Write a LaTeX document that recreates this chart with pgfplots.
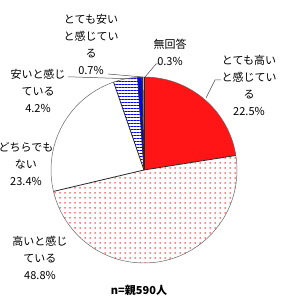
\documentclass[border=0pt]{standalone}
\usepackage{pgfplots}
\pgfplotsset{compat=1.18}
\usepackage{fontspec}
\newfontfamily\jp{Noto Sans CJK JP}
\usetikzlibrary{patterns.meta}

% pie geometry (axis units = pt)
\def\pieCx{144}\def\pieCy{133}\def\pieR{93}
\xdef\cum{0}
\newcommand{\slice}[2]{% #1 value in percent, #2 style
  \pgfmathsetmacro\sa{90-3.6*\cum}%
  \pgfmathsetmacro\ea{90-3.6*(\cum+#1)}%
  \edef\tmp{\noexpand\path[\unexpanded{#2}] (axis cs:\pieCx,\pieCy) -- ([shift={(\sa:\pieR pt)}]axis cs:\pieCx,\pieCy) arc[start angle=\sa, end angle=\ea, radius=\pieR pt] -- cycle;}%
  \tmp
  \edef\tmp{\noexpand\draw[black!85, line width=0.8pt] (axis cs:\pieCx,\pieCy) -- ([shift={(\sa:\pieR pt)}]axis cs:\pieCx,\pieCy);}%
  \tmp
  \pgfmathsetmacro\newcum{\cum+#1}\xdef\cum{\newcum}%
}

\begin{document}
\begin{tikzpicture}
\begin{axis}[name=ax, scale only axis, width=281pt, height=303pt,
  xmin=0, xmax=281, ymin=0, ymax=303, hide axis, clip=false]
% data (percent, clockwise from top)
\slice{22.5}{fill=red, postaction={pattern={Dots[distance=2pt, radius=0.45pt]}, pattern color=white}}
\slice{48.8}{fill=white, postaction={pattern={Dots[distance=5pt, radius=0.75pt]}, pattern color=red}}
\slice{23.4}{fill=white}
\slice{4.2}{fill=white, postaction={pattern={Lines[distance=3pt, angle=0, line width=0.7pt]}, pattern color=blue}}
\slice{0.7}{fill=blue}
\slice{0.3}{fill=black!80}
\draw[black!60, line width=0.5pt] (axis cs:\pieCx,\pieCy) circle[radius=\pieR pt];
% radial lines drawn again on top
\draw[black!85, line width=0.8pt] (axis cs:\pieCx,\pieCy) -- ++(90:\pieR pt);

% leader lines
\draw[black!70, line width=0.5pt] (axis cs:206,205) -- (axis cs:215,223) -- (axis cs:221,223);
\draw[black!70, line width=0.5pt] (axis cs:145,226) -- (axis cs:156,239) -- (axis cs:160,239);
\draw[black!70, line width=0.5pt] (axis cs:108,229) -- (axis cs:143,226);
\draw[black!70, line width=0.5pt] (axis cs:68,226) -- (axis cs:75,226) -- (axis cs:135,224);

% labels
\tikzset{lab/.style={align=center, inner sep=0pt, font={\jp\fontsize{11}{17}\selectfont}}}
\node[lab] at (axis cs:249,218) {とても高い\\と感じてい\\る\\22.5\%};
\node[lab] at (axis cs:170,250.5) {無回答\\0.3\%};
\node[lab] at (axis cs:91,259) {とても安い\\と感じてい\\る\\0.7\%};
\node[lab] at (axis cs:38,212) {安いと感じ\\ている\\4.2\%};
\node[lab] at (axis cs:26,139) {どちらでも\\ない\\23.4\%};
\node[lab] at (axis cs:40,45) {高いと感じ\\ている\\48.8\%};
\node[inner sep=0pt, font={\jp\bfseries\fontsize{11}{13}\selectfont}] at (axis cs:139,13) {n=親590人};
\end{axis}
\pgfresetboundingbox
\path (ax.south west) rectangle (ax.north east);
\end{tikzpicture}
\end{document}
